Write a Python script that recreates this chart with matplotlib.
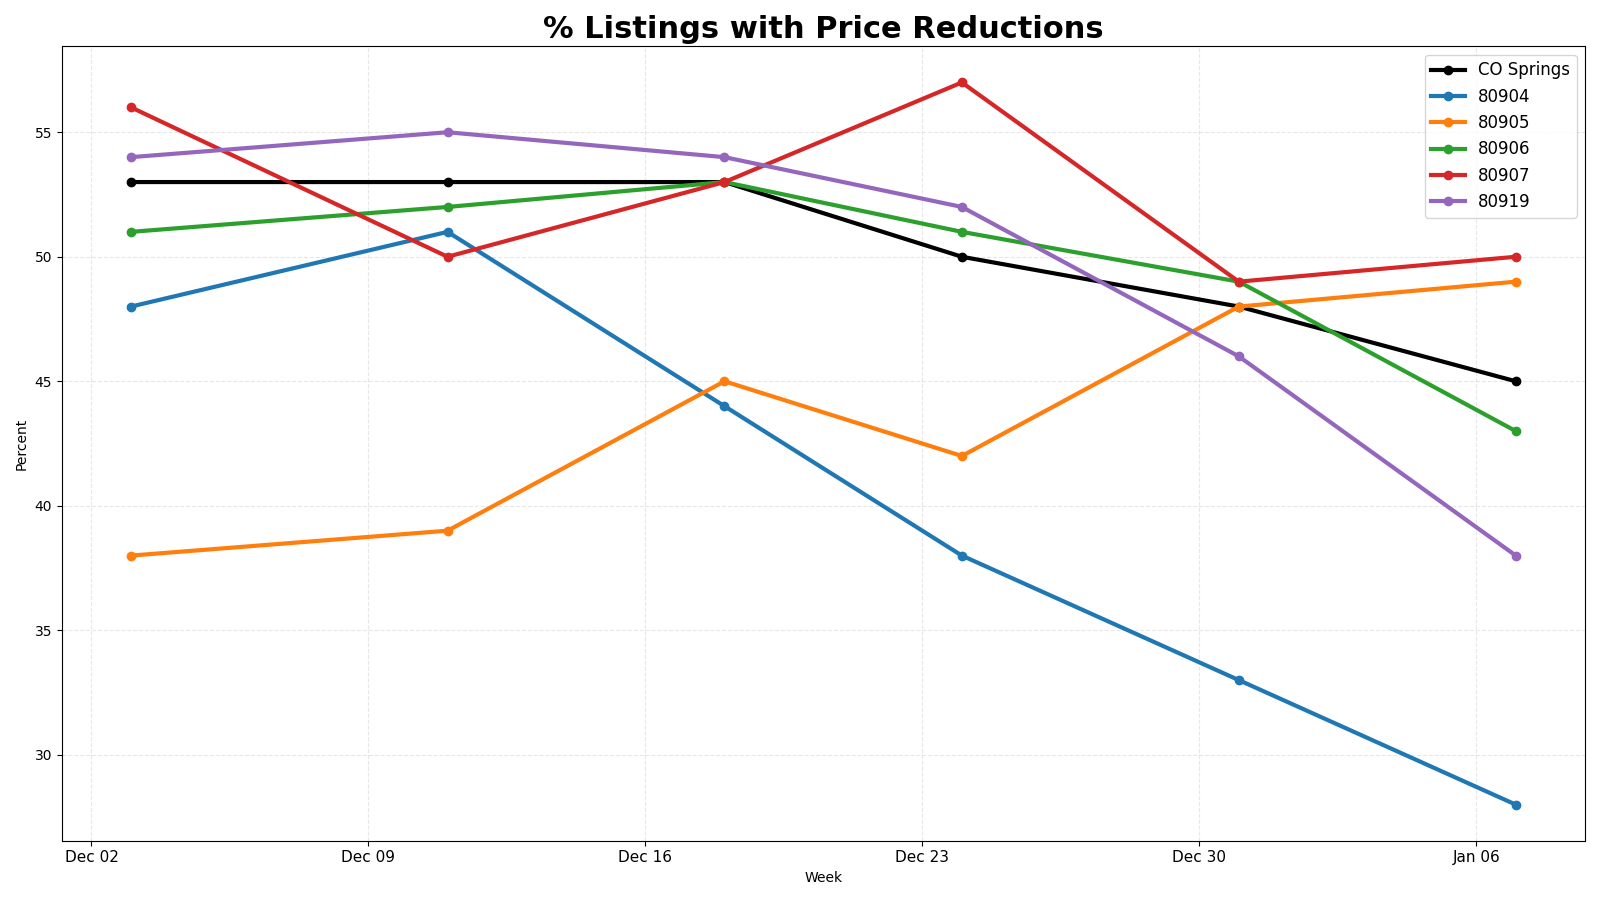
import matplotlib
matplotlib.use("Agg")
import matplotlib.pyplot as plt
import matplotlib.dates as mdates
import pandas as pd

weeks = ["2024-12-03", "2024-12-11", "2024-12-18", "2024-12-24", "2024-12-31", "2025-01-07"]
co_springs = [53, 53, 53, 50, 48, 45]
z80904 = [48, 51, 44, 38, 33, 28]
z80905 = [38, 39, 45, 42, 48, 49]
z80906 = [51, 52, 53, 51, 49, 43]
z80907 = [56, 50, 53, 57, 49, 50]
z80919 = [54, 55, 54, 52, 46, 38]

series = [
    ("CO Springs", co_springs, "black"),
    ("80904", z80904, "#1f77b4"),
    ("80905", z80905, "#ff7f0e"),
    ("80906", z80906, "#2ca02c"),
    ("80907", z80907, "#d62728"),
    ("80919", z80919, "#9467bd"),
]

dates = pd.to_datetime(weeks)

fig, ax = plt.subplots(figsize=(16, 9), dpi=100)
for name, vals, color in series:
    ax.plot(dates, vals, marker="o", linewidth=3, markersize=6, color=color, label=name)

ax.set_title("% Listings with Price Reductions", fontsize=22, fontweight="bold")
ax.set_xlabel("Week")
ax.set_ylabel("Percent")
ax.grid(True, linestyle="--", alpha=0.3)
ax.xaxis.set_major_locator(mdates.WeekdayLocator(byweekday=mdates.MO))
ax.xaxis.set_major_formatter(mdates.DateFormatter("%b %d"))
ax.tick_params(axis="x", labelsize=11)
ax.legend(loc="upper right", fontsize=12)
fig.tight_layout()
fig.savefig("out.png", dpi=100)
